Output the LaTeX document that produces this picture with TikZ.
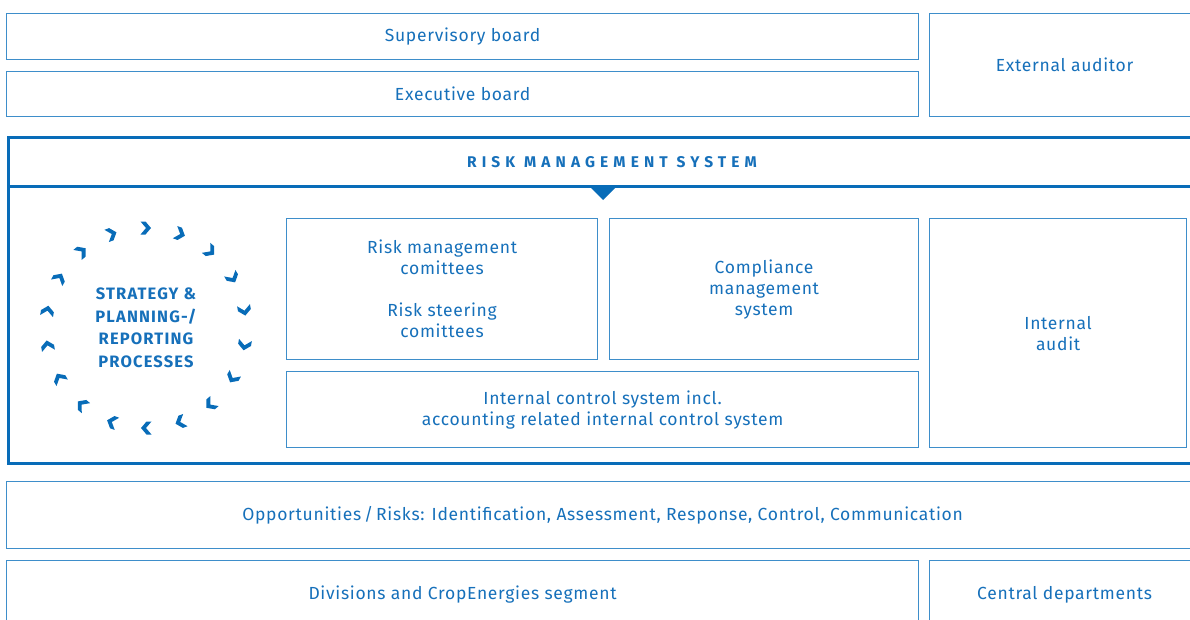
\documentclass[tikz,border=0pt]{standalone}
\usepackage{fontspec}
\setmainfont{Fira Sans}
\definecolor{tblue}{RGB}{22,112,186}
\definecolor{lblue}{RGB}{62,142,202}
\definecolor{fblue}{RGB}{8,108,184}
\tikzset{
  box/.style={draw=lblue, line width=1.2pt, anchor=north west, inner sep=0pt,
    text=tblue, font=\fontsize{17.5}{21}\selectfont\addfontfeature{LetterSpace=4}, align=center},
  frame/.style={draw=fblue, line width=3pt},
  chev/.style={fill=fblue, draw=none},
  titletext/.style={text=tblue, font=\fontsize{15.5}{18}\selectfont\bfseries\addfontfeature{LetterSpace=33}},
  circtext/.style={text=tblue, align=center, font=\fontsize{16.5}{22.5}\selectfont\bfseries\addfontfeature{LetterSpace=7}}
}
\begin{document}
\begin{tikzpicture}[x=1pt,y=-1pt]
\useasboundingbox (0,0) rectangle (1190,619);
\clip (0,0) rectangle (1190,619);
% top
\node[box, minimum width=912pt, minimum height=46pt] (sup) at (6,13) {Supervisory board};
\node[box, minimum width=912pt, minimum height=45pt] (exe) at (6,71) {Executive board};
\node[box, minimum width=270pt, minimum height=103pt] (ext) at (929,13) {External auditor};
% risk management system frame
\node[frame, anchor=north west, minimum width=1200pt, minimum height=326pt, inner sep=0pt] (rmsframe) at (7,136) {};
\coordinate (hl) at (7,186);
\coordinate (hr) at (1207,186);
\draw[frame] (hl) -- (hr);
\node[titletext] (rms) at (612,162) {RISK MANAGEMENT SYSTEM};
\coordinate (tri) at (603,186);
\fill[fblue] ([xshift=-14pt]tri) -- ([xshift=14pt]tri) -- ([yshift=-14pt]tri) -- cycle;
% inner boxes
\node[box, minimum width=311pt, minimum height=141pt] (rmc) at (286,218) {Risk management\\comittees\\[21pt]Risk steering\\comittees};
\node[box, minimum width=309pt, minimum height=141pt] (cms) at (609,218) {Compliance\\management\\system};
\node[box, minimum width=257pt, minimum height=229pt] (ia) at (929,218) {Internal\\audit};
\node[box, minimum width=632pt, minimum height=76pt] (ics) at (286,371) {Internal control system incl.\\accounting related internal control system};
% circle of chevrons
\coordinate (cc) at (146,328);
\node[circtext] (strat) at (cc) {STRATEGY \&\\PLANNING-/\\REPORTING\\PROCESSES};
\foreach \a in {90,70,...,-250}{
  \fill[chev, shift={({146+100*cos(\a)},{328-100*sin(\a)})}, rotate=\a-90]
    (-5.5,6.5) -- (-0.5,6.5) -- (5,0) -- (-0.5,-6.5) -- (-5.5,-6.5) -- (0,0) -- cycle;
}
% bottom
\node[box, minimum width=1192pt, minimum height=67pt] (opp) at (6,481) {Opportunities\,/\,Risks: Identification, Assessment, Response, Control, Communication};
\node[box, minimum width=912pt, minimum height=68pt] (div) at (6,560) {Divisions and CropEnergies segment};
\node[box, minimum width=270pt, minimum height=68pt] (cen) at (929,560) {Central departments};
\end{tikzpicture}
\end{document}
